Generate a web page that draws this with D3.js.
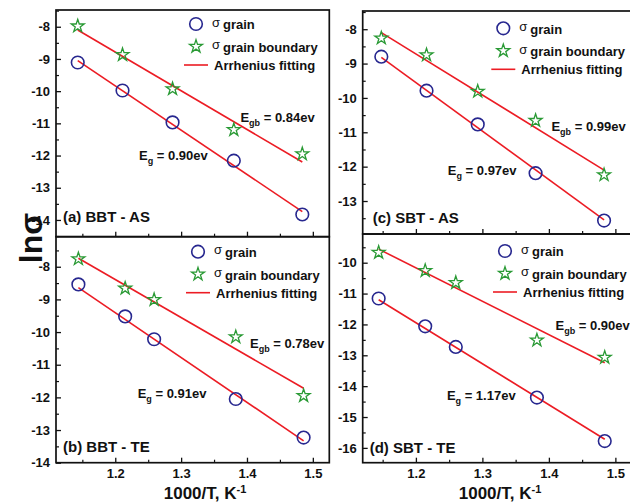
<!DOCTYPE html>
<html><head><meta charset="utf-8">
<script src="https://cdn.jsdelivr.net/npm/d3@7"></script>
<style>
body{margin:0;background:#fff}
svg text{font-family:"Liberation Sans",Arial,sans-serif;font-weight:bold;fill:#111}
</style>
</head><body>
<svg id="chart" width="630" height="502"></svg>
<script>
// ---------- data ----------
const xA = [1.143, 1.211, 1.287, 1.380, 1.484];
const grainA = [-9.11, -9.98, -10.97, -12.16, -13.83];
const gbA = [-7.98, -8.87, -9.93, -11.20, -11.95];
const fitGrainA = [-9.05, -13.74];
const fitGbA = [-8.10, -12.20];

const xB = [1.144, 1.215, 1.259, 1.383, 1.486];
const grainB = [-8.54, -9.52, -10.22, -12.05, -13.23];
const gbB = [-7.76, -8.66, -9.01, -10.15, -11.95];
const fitGrainB = [-8.64, -13.33];
const fitGbB = [-7.74, -11.72];

const xC = [1.148, 1.216, 1.293, 1.380, 1.483];
const grainC = [-8.80, -9.79, -10.77, -12.19, -13.57];
const gbC = [-8.26, -8.75, -9.81, -10.66, -12.24];
const fitGrainC = [-8.82, -13.55];
const fitGbC = [-8.10, -12.10];

const xD = [1.144, 1.214, 1.260, 1.382, 1.484];
const grainD = [-11.16, -12.06, -12.73, -14.37, -15.78];
const gbD = [-9.67, -10.26, -10.65, -12.51, -13.07];
const fitGrainD = [-11.20, -15.72];
const fitGbD = [-9.56, -13.24];

const xTicks = [1.2, 1.3, 1.4, 1.5];
const xMinor = [1.15, 1.25, 1.35, 1.45];
const yTicksA = [-8, -9, -10, -11, -12, -13, -14];
const yTicksB = [-8, -9, -10, -11, -12, -13, -14];
const yTicksC = [-8, -9, -10, -11, -12, -13];
const yTicksD = [-10, -11, -12, -13, -14, -15, -16];

const panelLabels = ["(a) BBT - AS", "(b) BBT - TE", "(c) SBT - AS", "(d) SBT - TE"];
const egValues = ["0.90ev", "0.91ev", "0.97ev", "1.17ev"];
const egbValues = ["0.84ev", "0.78ev", "0.99ev", "0.90ev"];
const legendLabels = ["grain", "grain boundary", "Arrhenius fitting"];

// ---------- layout ----------
const colors = {grain: "#27278f", gb: "#2a9a35", fit: "#ec1c24"};
const panels = [
  {x: xA, grain: grainA, gb: gbA, fg: fitGrainA, fgb: fitGbA, yt: yTicksA,
   box: [56, 10, 329.3, 236.7], xd: [1.11, 1.525], yd: [-14.52, -7.48], showX: false,
   egb: [1.390, -10.96], eg: [1.236, -12.14], lab: [7, 14.5], leg: [140, 14]},
  {x: xB, grain: grainB, gb: gbB, fg: fitGrainB, fgb: fitGbB, yt: yTicksB,
   box: [56, 236.7, 329.3, 462.7], xd: [1.11, 1.525], yd: [-14.0, -7.08], showX: true,
   egb: [1.4046, -10.49], eg: [1.234, -12.02], lab: [7, 11], leg: [142, 15]},
  {x: xC, grain: grainC, gb: gbC, fg: fitGrainC, fgb: fitGbC, yt: yTicksC,
   box: [362.7, 11, 632, 234], xd: [1.12, 1.525], yd: [-13.96, -7.47], showX: false,
   egb: [1.4038, -10.96], eg: [1.248, -12.24], lab: [10, 11.5], leg: [140.6, 17.3]},
  {x: xD, grain: grainD, gb: gbD, fg: fitGrainD, fgb: fitGbD, yt: yTicksD,
   box: [362.7, 234, 632, 462.7], xd: [1.12, 1.525], yd: [-16.48, -9.07], showX: true,
   egb: [1.410, -12.18], eg: [1.2466, -14.45], lab: [7, 10], leg: [142.3, 17]}
];

const svg = d3.select("#chart");
const star = d3.symbol().type(d3.symbolStar).size(52);

panels.forEach((p, i) => {
  const [x0, y0, x1, y1] = p.box;
  const xs = d3.scaleLinear().domain(p.xd).range([x0, x1]);
  const ys = d3.scaleLinear().domain(p.yd).range([y1, y0]);
  const g = svg.append("g");

  const cid = "clip" + i;
  svg.append("clipPath").attr("id", cid).append("rect")
    .attr("x", x0).attr("y", y0).attr("width", x1 - x0).attr("height", y1 - y0);

  // y axis major + minor (inward)
  const yMinor = [];
  p.yt.forEach(v => { [v + 0.5, v - 0.5].forEach(m => { if (m > p.yd[0] && m < p.yd[1] && !yMinor.includes(m) && !p.yt.includes(m)) yMinor.push(m); }); });
  const ya = g.append("g").attr("transform", `translate(${x0},0)`)
    .call(d3.axisLeft(ys).tickValues(p.yt).tickSize(-5).tickPadding(6).tickFormat(d3.format("d")));
  ya.select(".domain").remove();
  ya.selectAll("text").style("font-size", "13px").text(d => "-" + Math.abs(d));
  ya.selectAll("line").attr("stroke", "#111").attr("stroke-width", 1.3);
  const ym = g.append("g").attr("transform", `translate(${x0},0)`)
    .call(d3.axisLeft(ys).tickValues(yMinor).tickSize(-3).tickFormat(""));
  ym.select(".domain").remove();
  ym.selectAll("line").attr("stroke", "#111").attr("stroke-width", 1.2);

  // x axis major + minor (inward)
  const xa = g.append("g").attr("transform", `translate(0,${y1})`)
    .call(d3.axisBottom(xs).tickValues(xTicks).tickSize(-5).tickPadding(6).tickFormat(d3.format(".1f")));
  xa.select(".domain").remove();
  xa.selectAll("line").attr("stroke", "#111").attr("stroke-width", 1.3);
  xa.selectAll("text").style("font-size", "13px");
  if (!p.showX) xa.selectAll("text").remove();
  const xm = g.append("g").attr("transform", `translate(0,${y1})`)
    .call(d3.axisBottom(xs).tickValues(xMinor).tickSize(-3).tickFormat(""));
  xm.select(".domain").remove();
  xm.selectAll("line").attr("stroke", "#111").attr("stroke-width", 1.2);

  // fit lines
  const line = d3.line().x(d => xs(d[0])).y(d => ys(d[1]));
  const first = p.x[0], last = p.x[p.x.length - 1];
  const plot = g.append("g").attr("clip-path", `url(#${cid})`);
  plot.append("path").datum([[first, p.fg[0]], [last, p.fg[1]]])
    .attr("d", line).attr("fill", "none").attr("stroke", colors.fit).attr("stroke-width", 1.6);
  plot.append("path").datum([[first, p.fgb[0]], [last, p.fgb[1]]])
    .attr("d", line).attr("fill", "none").attr("stroke", colors.fit).attr("stroke-width", 1.6);

  // markers
  plot.selectAll(".gc").data(p.x.map((v, k) => [v, p.grain[k]])).enter().append("circle")
    .attr("cx", d => xs(d[0])).attr("cy", d => ys(d[1])).attr("r", 6.3)
    .attr("fill", "none").attr("stroke", colors.grain).attr("stroke-width", 1.6);
  plot.selectAll(".gs").data(p.x.map((v, k) => [v, p.gb[k]])).enter().append("path")
    .attr("d", star).attr("transform", d => `translate(${xs(d[0])},${ys(d[1])})`)
    .attr("fill", "none").attr("stroke", colors.gb).attr("stroke-width", 1.3);

  // frame
  g.append("rect").attr("x", x0).attr("y", y0).attr("width", x1 - x0).attr("height", y1 - y0)
    .attr("fill", "none").attr("stroke", "#111").attr("stroke-width", 1.7);

  // panel label
  g.append("text").attr("x", x0 + p.lab[0]).attr("y", y1 - p.lab[1])
    .style("font-size", "15px").text(panelLabels[i]);

  // annotations
  const ta = g.append("text").attr("x", xs(p.egb[0])).attr("y", ys(p.egb[1])).style("font-size", "13px");
  ta.append("tspan").text("E");
  ta.append("tspan").attr("dy", 4).style("font-size", "9px").text("gb");
  ta.append("tspan").attr("dy", -4).text(" = " + egbValues[i]);
  const tb = g.append("text").attr("x", xs(p.eg[0])).attr("y", ys(p.eg[1])).style("font-size", "13px");
  tb.append("tspan").text("E");
  tb.append("tspan").attr("dy", 4).style("font-size", "9px").text("g");
  tb.append("tspan").attr("dy", -4).text(" = " + egValues[i]);

  // legend
  const lx = x0 + p.leg[0], ly = y0 + p.leg[1];
  g.append("circle").attr("cx", lx).attr("cy", ly).attr("r", 6.3)
    .attr("fill", "none").attr("stroke", colors.grain).attr("stroke-width", 1.6);
  g.append("path").attr("d", star).attr("transform", `translate(${lx},${ly + 22.5})`)
    .attr("fill", "none").attr("stroke", colors.gb).attr("stroke-width", 1.3);
  g.append("line").attr("x1", lx - 12).attr("x2", lx + 12).attr("y1", ly + 41).attr("y2", ly + 41)
    .attr("stroke", colors.fit).attr("stroke-width", 1.6);
  [0, 1].forEach(r => {
    const t = g.append("text").attr("x", lx + 16).attr("y", ly + r * 22.5 + 2.7).style("font-size", "13px");
    t.append("tspan").style("font-weight", "normal").style("font-size", "13px").text("σ");
    t.append("tspan").attr("dy", 2.6).attr("dx", 3).text(legendLabels[r]);
  });
  g.append("text").attr("x", lx + 18).attr("y", ly + 46).style("font-size", "13px").text(legendLabels[2]);
});

// axis titles
svg.append("text").attr("transform", "translate(42,238) rotate(-90)")
  .attr("text-anchor", "middle").style("font-size", "32px").text("lnσ");
[205, 500].forEach(cx => {
  const t = svg.append("text").attr("x", cx).attr("y", 499).attr("text-anchor", "middle").style("font-size", "17px");
  t.append("tspan").text("1000/T, K");
  t.append("tspan").attr("dy", -6).style("font-size", "11px").text("-1");
});
</script>
</body></html>
